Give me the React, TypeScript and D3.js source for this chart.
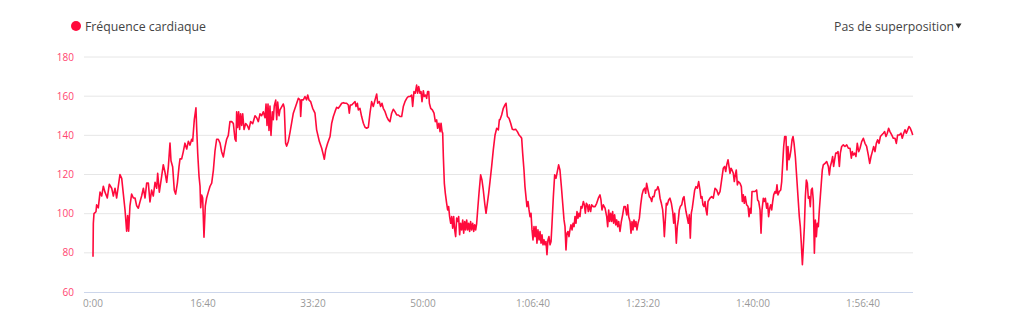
import React from "react";
import * as d3 from "d3";

const seriesName = "Fréquence cardiaque";
const overlayLabel = "Pas de superposition";
const yTicks = [60, 80, 100, 120, 140, 160, 180];
const xTicks = [0, 1000, 2000, 3000, 4000, 5000, 6000, 7000];

const timeSec = [
  0, 3, 9, 27, 33, 48, 64, 79, 94, 109, 130, 148, 170, 185, 200, 215, 230, 245, 261, 276,
  291, 306, 315, 324, 336, 351, 367, 382, 397, 412, 427, 442, 458, 473, 488, 503, 518, 533, 548, 564,
  579, 588, 603, 624, 639, 655, 670, 685, 700, 709, 724, 739, 751, 767, 782, 791, 806, 821, 836, 852,
  867, 882, 897, 906, 921, 936, 942, 952, 964, 973, 979, 988, 997, 1009, 1021, 1033, 1048, 1064, 1079, 1094,
  1109, 1124, 1139, 1155, 1170, 1185, 1200, 1215, 1230, 1245, 1261, 1276, 1291, 1300, 1306, 1315, 1324, 1333, 1342, 1352,
  1361, 1373, 1388, 1403, 1418, 1433, 1452, 1473, 1488, 1503, 1518, 1533, 1548, 1564, 1573, 1582, 1591, 1600, 1609, 1618,
  1630, 1639, 1648, 1661, 1670, 1679, 1691, 1700, 1715, 1730, 1739, 1751, 1761, 1776, 1791,
  1821, 1852, 1867, 1882, 1888, 1897, 1912, 1927, 1942, 1952, 1964, 1979, 1997, 2018, 2033, 2058, 2079, 2094, 2103, 2115,
  2133, 2155, 2170, 2185, 2200, 2215, 2230, 2245, 2261, 2276, 2291, 2306, 2321, 2330, 2339, 2352, 2367, 2382, 2391, 2403,
  2412, 2427, 2442, 2458, 2473, 2488, 2503, 2518, 2533, 2548, 2564, 2579, 2588, 2603, 2615, 2627, 2639, 2655, 2670, 2685,
  2700, 2715, 2730, 2745, 2761, 2776, 2791, 2806, 2821, 2836, 2852, 2867, 2882, 2897, 2906, 2918, 2930, 2942, 2951, 2961,
  2973, 2982, 2991, 3003, 3012, 3024, 3033, 3042, 3052, 3058, 3070, 3085, 3100, 3112, 3124, 3133, 3145, 3155, 3164, 3173,
  3179, 3185, 3194, 3203, 3215, 3224, 3233, 3242, 3252, 3261, 3270, 3279, 3288, 3297, 3306, 3315, 3324, 3333, 3342, 3352,
  3361, 3370, 3379, 3388, 3397, 3406, 3415, 3424, 3433, 3442, 3452, 3461, 3470, 3479, 3488, 3497, 3509, 3524, 3536, 3548,
  3561, 3573, 3585, 3597, 3609, 3624, 3639, 3655, 3670, 3685, 3694,
  3700, 3715, 3730, 3745, 3755, 3767, 3782, 3797, 3812, 3827, 3842, 3858, 3873, 3888, 3897, 3906, 3918, 3927, 3936, 3945,
  3955, 3964, 3973, 3982, 3991, 4000, 4009, 4018, 4027, 4036, 4045, 4055, 4064, 4073, 4082, 4091, 4100, 4109, 4118, 4127,
  4136, 4145, 4155, 4164, 4173, 4185, 4197, 4209, 4221, 4233, 4245, 4258, 4270, 4282, 4291, 4300, 4309, 4318, 4327, 4336,
  4345, 4355, 4364, 4373, 4382, 4391, 4400, 4409, 4418, 4427, 4436, 4445, 4458, 4467, 4476, 4485, 4494, 4503, 4512, 4524,
  4533, 4548, 4564, 4579, 4594, 4609, 4618, 4627, 4639, 4655, 4670, 4679, 4688, 4697, 4706, 4715, 4724, 4733, 4742, 4752,
  4761, 4770, 4779, 4791, 4803, 4815, 4827, 4839, 4852, 4861, 4870, 4882, 4891, 4900, 4909, 4918, 4927, 4936, 4945, 4955,
  4967, 4979, 4991, 5003, 5015, 5024, 5033, 5045, 5058, 5070, 5079, 5088, 5100, 5112, 5124, 5136, 5145, 5155, 5167, 5179,
  5188, 5194, 5203, 5212, 5221, 5233, 5245, 5258, 5270, 5279, 5288, 5297, 5303, 5312, 5321, 5330, 5339, 5352, 5364, 5373,
  5382, 5391, 5403, 5412, 5421, 5430, 5439, 5448, 5458, 5470, 5482, 5494, 5506, 5518, 5527, 5536, 5545, 5555, 5564, 5573,
  5582, 5591,
  5609, 5624, 5639, 5655, 5670, 5685, 5700, 5715, 5730, 5742, 5752, 5761, 5773, 5782, 5791, 5800, 5809, 5821, 5830, 5839,
  5848, 5858, 5867, 5882, 5894, 5903, 5912, 5921, 5930, 5942, 5955, 5964, 5973, 5982, 5991, 6003, 6018, 6033, 6042, 6052,
  6064, 6073, 6082, 6094, 6103, 6112, 6124, 6133, 6142, 6152, 6161, 6170, 6179, 6188, 6200, 6209, 6218, 6227, 6239, 6252,
  6261, 6270, 6279, 6288, 6300, 6309, 6318, 6327, 6336, 6345, 6355, 6364, 6373, 6385, 6397, 6409, 6421, 6430, 6439, 6449,
  6458, 6467, 6476, 6485, 6494, 6503, 6512, 6521, 6530, 6539, 6548, 6558, 6567, 6576, 6585, 6594, 6603, 6612, 6621, 6630,
  6639, 6655, 6670, 6685, 6694, 6703, 6715, 6724, 6733, 6742, 6752, 6761, 6773, 6785, 6794, 6806, 6821, 6836, 6852, 6867,
  6882, 6894, 6903, 6912, 6924, 6936, 6948, 6961, 6973, 6988, 7003, 7018, 7033, 7048, 7061, 7073, 7085, 7097, 7109, 7121,
  7133, 7146, 7158, 7170, 7185, 7197, 7209, 7221, 7233, 7245, 7261, 7276, 7291, 7303, 7315, 7330, 7345, 7357, 7370, 7382,
  7394, 7406, 7418, 7430, 7442, 7452,
];

const heartRate = [
  78, 95, 100, 101, 104.5, 103, 111, 109, 114, 111, 108, 115, 113, 109, 113, 108, 114, 120, 118, 110,
  102, 91, 99, 91, 104, 110, 108, 108, 104, 102.8, 106, 109, 113, 108, 115.6, 115.6, 106, 112, 109, 116,
  113, 120.6, 111, 119, 125, 121, 116, 124, 136, 127, 124, 112, 110, 115.6, 124, 128, 128, 131.7, 136, 133,
  137, 135, 138, 137, 148, 154, 144.5, 130.7, 119, 114, 103, 109.5, 108, 88, 104, 108, 111, 114, 115.6, 122,
  132, 138, 138, 136, 131.5, 129, 134, 138, 140, 147, 147, 146, 138, 137, 152, 144, 152, 143, 151, 145,
  151, 143, 146, 145, 143, 147, 146, 150, 149, 147, 151, 150, 152, 149, 156, 145, 156, 142.5, 155, 140,
  152, 148, 155, 158, 148, 157, 150, 153, 154.5, 156, 154, 136, 134.5, 137, 141.5,
  151.3, 156.4, 158.9, 158.1, 149.6, 158.1, 158.1, 159.8, 158.1, 160.6, 158, 157.2, 153.8, 151.3, 142.8, 136.8, 133.4, 130, 127.8, 132.5,
  136, 139.4, 146.2, 149.6, 152.1, 154.3, 153.8, 155, 156.4, 156.7, 156.4, 156.4, 155.5, 151.3, 155.5, 155.5, 156.4, 157.2, 154.7, 156.4,
  153, 153.8, 149.6, 146.2, 144.1, 143.6, 144.1, 151.3, 157.2, 154.7, 158.1, 161.1, 156.4, 157.2, 154.7, 156.4, 153.8, 152.1, 149.6, 147.9,
  147, 151.3, 153.3, 152.1, 150.4, 150.4, 149.6, 149.6, 154.7, 157.2, 158.9, 159.8, 159.8, 160.6, 154.7, 162.3, 161.5, 165.7, 161.5, 164.9,
  161.5, 162.3, 157.2, 162.8, 159.8, 160.6, 158.9, 162.3, 162.3, 156.4, 153.8, 153, 151.3, 147, 147.9, 143.6, 146.2, 141.9, 146.2, 141.9,
  141.1, 129.2, 115.5, 110.4, 105.3, 101.9, 103.6, 98.5, 95.1, 98.5, 92.6, 98.5, 91.7, 88.3, 97.7, 96, 98.5, 89.2, 95.1, 91.7,
  96.8, 90, 96, 91.7, 96.8, 91.7, 95.1, 90.9, 96, 91.7, 95.1, 90.9, 94.3, 91.7, 95.1, 101.9, 110.4, 119.8, 117.2, 112.1,
  105.3, 100.2, 105.3, 110.4, 116.4, 124.1, 132.6, 140.2, 143.6, 142.8, 147.9,
  148, 150.4, 153.8, 155.5, 156.4, 149.6, 148.7, 146.2, 143.1, 142.8, 143.1, 141.9, 140.2, 139.3, 138.5, 130.9, 122.3, 113.8, 108.7, 103.6,
  106.2, 101.9, 98.5, 100.2, 91.7, 86.6, 93.4, 88.3, 93.4, 84.9, 91.7, 86.6, 90.9, 84.9, 89.2, 84.1, 86.6, 84.1, 85.8, 79,
  86.6, 88.3, 84.1, 85.8, 95.1, 108.7, 119.8, 118.1, 121.5, 124.9, 122.3, 113.8, 105.3, 96.8, 93.4, 81.5, 90, 90.9, 88.3, 91.7,
  94.3, 91.7, 95.1, 93.4, 98.5, 95.1, 101.1, 97.7, 100.2, 98.5, 103.6, 102.8, 106.2, 104.5, 100.2, 105.3, 104.5, 101.1, 104.5, 101.1,
  104.5, 103.6, 103.6, 105.3, 107.9, 109.6, 107, 101.9, 104.5, 102.8, 98.5, 93.4, 101.9, 96, 100.2, 96, 101.1, 95.1, 99.4, 94.3,
  96.8, 93.4, 96, 90.9, 96, 99.4, 103.6, 103.6, 99.4, 104.5, 98.5, 96, 90, 96, 91.7, 96.8, 93.4, 96, 91.7, 95.1,
  97.7, 104.5, 109.6, 112.1, 113, 110.4, 115.5, 112.1, 108.7, 107.9, 106.2, 108.7, 108.7, 112.1, 112.1, 113.8, 112.1, 107.9, 105.3, 101.9,
  95.1, 88.3, 96.8, 105.3, 104.5, 107, 107.9, 105.3, 101.1, 95.1, 100.2, 91.7, 84.9, 93.4, 96.8, 101.9, 103.6, 104.5, 107.9, 108.7,
  104.5, 101.1, 97.7, 95.1, 99.4, 87.5, 100.2, 102.8, 107, 112.1, 113.8, 113, 116.4, 112.1, 107.9, 108.7, 104.5, 103.6, 106.2, 101.9,
  99.4, 106.2,
  107.9, 108.7, 107.9, 113, 112.1, 109.6, 111.3, 117.2, 123.2, 124.1, 121.5, 124.9, 127.5, 124.1, 120.6, 123.2, 122.3, 120.6, 116.4, 119.8,
  122.3, 114.7, 116.4, 115.5, 113.8, 106.2, 109.6, 105.3, 108.7, 104.5, 103.6, 98.5, 102.8, 100.2, 111.3, 111.3, 111.3, 112.1, 107, 106.2,
  101.9, 90, 101.9, 107.9, 106.2, 107.9, 102.8, 105.3, 98.5, 102.8, 104.5, 101.9, 106.2, 109.6, 111.3, 110.4, 114.7, 109.6, 111.3, 112.1,
  116.4, 125.7, 134.3, 139.4, 139.4, 122.3, 134.3, 127.5, 129.2, 132.5, 137.7, 139.4, 136, 129.2, 119, 108.7, 98.5, 93.4, 84.9, 73.9,
  83.2, 93.4, 108.7, 117.2, 115.5, 107.9, 108.7, 103.6, 112.1, 113, 107, 79.8, 96.8, 88.3, 95.1, 93.4, 101.9, 108.7, 115.5, 122.3,
  124.9, 125.7, 126.6, 124.1, 119.8, 124.1, 126.6, 129.2, 124.1, 127.5, 130.9, 130.9, 131.7, 124.1, 130.9, 134.3, 135.1, 134.3, 135.1, 133.4,
  133.4, 128.3, 131.7, 130, 130.9, 129.2, 135.9, 131.7, 133.4, 136.8, 138.5, 135.9, 134.3, 130, 125.7, 129.2, 131.7, 134.3, 131.7, 135.9,
  137.7, 135.9, 139.4, 140.2, 141.1, 141.9, 139.4, 141.1, 143.6, 141.9, 140.2, 138.5, 138.5, 135.9, 140.2, 140.2, 141.1, 138.5, 141.1, 142.8,
  141.1, 142.8, 144.5, 143.6, 141.9, 140.2,
];

const LINE_COLOR = "#ff0a3c";
const FONT = "'Open Sans', 'Noto Sans', sans-serif";

function fmtTime(s: number): string {
  const h = Math.floor(s / 3600);
  const m = Math.floor((s % 3600) / 60);
  const sec = Math.floor(s % 60);
  const pad = (n: number) => String(n).padStart(2, "0");
  return h > 0 ? `${h}:${pad(m)}:${pad(sec)}` : `${m}:${pad(sec)}`;
}

export default function App() {
  const width = 1021;
  const height = 331;
  const plotLeft = 84;
  const plotRight = 913;

  const x = d3.scaleLinear().domain([0, 7000]).range([93, 863]);
  const y = d3.scaleLinear().domain([60, 180]).range([292, 57]);

  const points: [number, number][] = timeSec.map((t, i) => [t, heartRate[i]]);
  const line = d3
    .line<[number, number]>()
    .x((d) => x(d[0]))
    .y((d) => y(d[1]));

  return (
    <svg
      width={width}
      height={height}
      style={{ position: "absolute", left: 0, top: 0, background: "#fff" }}
      fontFamily={FONT}
    >
      {/* legend */}
      <circle cx={76} cy={26} r={5} fill={LINE_COLOR} />
      <text x={85} y={30.5} fontSize={12.3} fill="#444">
        {seriesName}
      </text>
      <text x={834} y={30.5} fontSize={12.3} fill="#444">
        {overlayLabel}
      </text>
      <path d="M955.5,23.5 L961.5,23.5 L958.5,28.5 Z" fill="#333" />

      {/* grid */}
      {yTicks.map((v) => (
        <g key={v}>
          {v !== 60 && (
            <line x1={plotLeft} x2={plotRight} y1={y(v)} y2={y(v)} stroke="#e6e6e6" strokeWidth={1} />
          )}
          <text x={74} y={y(v) + 3.5} fontSize={10} fill="#ff4470" textAnchor="end">
            {v}
          </text>
        </g>
      ))}
      <line x1={plotLeft} x2={plotRight} y1={y(60) + 0.5} y2={y(60) + 0.5} stroke="#ccd6eb" strokeWidth={1} />

      {/* x labels */}
      {xTicks.map((t) => (
        <text key={t} x={x(t)} y={306.5} fontSize={10} fill="#999" textAnchor="middle">
          {fmtTime(t)}
        </text>
      ))}

      <path d={line(points) || ""} fill="none" stroke={LINE_COLOR} strokeWidth={1.6} strokeLinejoin="round" />
    </svg>
  );
}
